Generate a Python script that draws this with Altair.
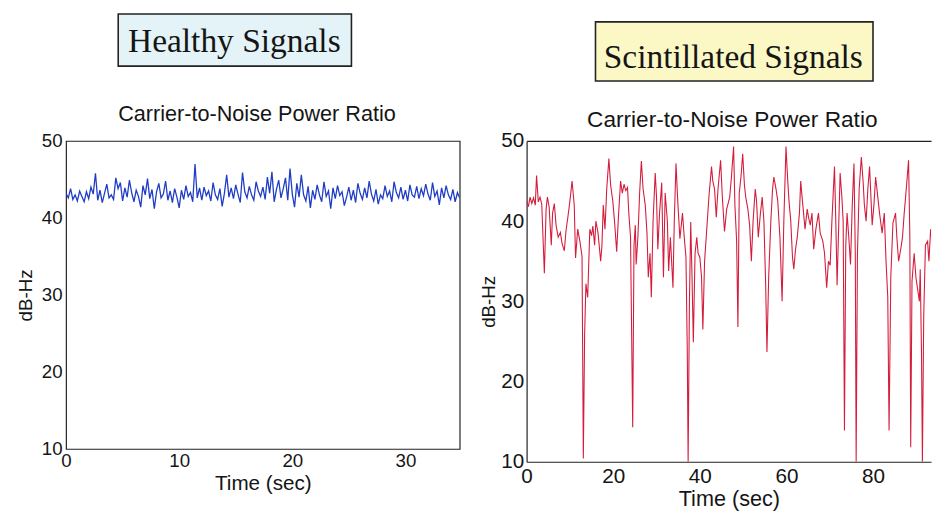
import altair as alt
import pandas as pd

# ---------------- data ----------------
panel_titles = ["Healthy Signals", "Scintillated Signals"]
panel_subtitle = "Carrier-to-Noise Power Ratio"
y_label = "dB-Hz"
x_label = "Time (sec)"

healthy_x_ticks = [0, 10, 20, 30]
scint_x_ticks = [0, 20, 40, 60, 80]
y_ticks = [10, 20, 30, 40, 50]

# healthy C/N0, sampled every 0.2 s
healthy_step = 0.2
healthy_cn0 = [
    43.2, 42.6, 43.8, 42.4, 43.0, 42.2, 43.5, 42.8, 42.1, 43.4,
    42.5, 44.0, 43.1, 45.8, 42.3, 43.6, 42.0, 43.2, 44.4, 42.6,
    43.0, 42.4, 45.2, 43.8, 44.6, 42.2, 43.9, 42.7, 44.9, 43.3,
    42.1, 43.6, 42.8, 41.4, 44.2, 43.0, 45.1, 42.5, 43.7, 41.2,
    43.4, 44.5, 42.6, 43.1, 44.8, 42.3, 43.5, 42.0, 43.8, 42.7,
    41.3, 43.6, 42.4, 44.2, 42.8, 43.3, 42.1, 47.0, 42.6, 43.9,
    42.3, 44.0, 42.9, 43.5, 42.2, 44.6, 43.0, 42.4, 43.8, 41.5,
    43.2, 45.6, 42.7, 43.9, 42.5, 44.3, 43.1, 42.0, 45.9, 43.4,
    42.6, 44.1, 43.0, 42.3, 44.7, 43.5, 42.8, 44.0, 42.4, 45.3,
    43.2, 46.0, 42.1, 43.7, 44.9, 42.6, 43.8, 45.2, 42.3, 46.4,
    43.1, 41.4, 44.5, 42.7, 45.6, 43.0, 42.2, 44.1, 41.3, 43.6,
    42.4, 44.3, 43.0, 42.1, 44.7, 42.8, 43.5, 41.2, 43.9, 42.5,
    44.2, 42.9, 43.4, 41.6, 42.7, 44.0, 42.3, 43.6, 42.0, 44.5,
    43.2, 42.4, 43.9, 42.6, 44.8, 43.1, 42.2, 43.7, 41.8, 43.0,
    42.5, 44.2, 42.8, 43.5, 42.1, 44.7, 43.3, 42.6, 44.0, 42.4,
    43.6, 42.2, 44.3, 43.0, 42.7, 44.1, 42.5, 43.8, 42.9, 44.4,
    43.1, 42.3, 44.6, 42.8, 43.5, 41.7, 43.9, 42.6, 44.2, 43.0,
    42.4, 43.7, 42.1, 43.3, 42.6,
]
healthy_time = [round(i * healthy_step, 1) for i in range(len(healthy_cn0))]

scint_time = [
    0.0, 0.4, 0.8, 1.2, 1.6, 2.0, 2.3, 2.7, 3.1, 3.5, 4.1, 4.5, 4.8, 5.2, 5.7,
    6.0, 6.4, 6.8, 7.3, 7.8, 8.2, 8.7, 9.1, 9.6, 10.0, 10.5, 11.0, 11.3, 11.8,
    12.3, 12.8, 13.1, 13.4, 13.7, 14.1, 14.6, 15.0, 15.3, 15.7, 16.0, 16.5,
    17.1, 17.4, 17.7, 18.1, 18.5, 19.0, 19.4, 19.9, 20.3, 20.8, 21.2, 21.7,
    22.1, 22.5, 22.9, 23.3, 23.6, 24.0, 24.5, 24.8, 25.1, 25.3, 25.7, 26.1,
    26.5, 26.9, 27.4, 27.8, 28.1, 28.5, 28.8, 29.2, 29.7, 30.0, 30.3, 30.7,
    31.2, 31.6, 32.0, 32.5, 32.8, 33.2, 33.8, 34.1, 34.5, 34.9, 35.4, 36.0,
    36.4, 36.8, 37.1, 37.3, 37.6, 37.9, 38.2, 38.5, 38.9, 39.3, 39.6, 40.0,
    40.4, 40.7, 41.1, 41.6, 42.1, 42.7, 43.0, 43.4, 43.8, 44.2, 44.8, 45.2,
    45.7, 46.2, 46.9, 47.3, 47.8, 48.1, 48.5, 48.8, 49.1, 49.5, 49.9, 50.3,
    50.6, 51.1, 51.5, 51.9, 52.3, 52.8, 53.1, 53.5, 54.0, 54.4, 54.8, 55.2,
    55.5, 55.9, 56.4, 56.8, 57.1, 57.6, 58.0, 58.5, 59.0, 59.4, 59.9, 60.3,
    60.6, 61.0, 61.4, 61.7, 62.1, 62.5, 63.0, 63.3, 63.7, 64.3, 64.8, 65.1,
    65.5, 65.9, 66.3, 66.8, 67.4, 67.8, 68.4, 68.8, 69.3, 69.7, 70.1, 70.5,
    71.1, 71.4, 71.7, 72.0, 72.4, 72.8, 73.1, 73.4, 73.7, 74.0, 74.4, 74.8,
    75.2, 75.6, 75.9, 76.1, 76.4, 76.8, 77.3, 77.7, 78.0, 78.4, 78.8, 79.2,
    79.8, 80.2, 80.6, 81.1, 81.5, 82.1, 82.6, 83.0, 83.4, 83.7, 84.1, 84.6,
    85.2, 85.5, 85.9, 86.4, 86.8, 87.2, 87.6, 88.2, 88.5, 88.7, 89.0, 89.5,
    89.9, 90.3, 90.7, 90.9, 91.2, 91.4, 91.7, 92.1, 92.6, 92.9, 93.3, 93.7,
    94.0,
]
scint_cn0 = [
    42.5, 41.8, 43.0, 42.2, 42.9, 42.0, 45.7, 42.4, 43.0, 42.1, 33.5, 41.5, 43.0, 41.8, 37.0,
    41.0, 42.2, 39.5, 38.0, 38.6, 37.2, 36.3, 38.8, 40.8, 42.5, 45.0, 42.0, 35.4, 39.0,
    37.5, 35.6, 10.4, 26.0, 32.2, 30.5, 39.0, 38.2, 39.4, 37.0, 40.0, 38.5,
    35.0, 37.0, 42.0, 39.0, 44.0, 47.8, 44.5, 42.5, 40.0, 36.2, 40.5, 45.0,
    43.5, 44.6, 43.8, 44.2, 41.0, 38.0, 14.3, 37.0, 39.5, 34.6, 38.0, 43.5,
    47.5, 44.0, 42.0, 38.5, 33.0, 36.0, 30.5, 40.0, 46.0, 43.0, 36.5, 41.0,
    44.8, 33.0, 43.5, 40.0, 33.8, 38.0, 31.7, 40.0, 47.2, 42.5, 37.8, 41.0,
    38.0, 35.5, 24.0, 10.0, 30.0, 39.9, 33.0, 24.9, 36.0, 38.0, 36.0, 35.5,
    33.0, 26.5, 35.0, 39.0, 43.0, 46.8, 45.0, 44.0, 40.5, 44.0, 47.6, 43.0,
    38.7, 41.5, 43.0, 45.5, 49.3, 42.0, 37.5, 26.8, 43.5, 45.5, 48.4, 44.5,
    43.0, 41.5, 39.5, 35.0, 40.0, 44.0, 42.5, 38.0, 41.0, 43.0, 40.0, 32.2,
    23.7, 33.0, 40.0, 44.0, 45.5, 44.0, 42.5, 38.0, 30.0, 40.0, 49.3, 45.0,
    42.5, 40.0, 35.5, 34.0, 36.5, 38.0, 41.0, 45.0, 42.5, 39.0, 41.5, 40.5,
    39.5, 41.0, 36.5, 39.0, 41.0, 38.5, 37.5, 36.0, 31.7, 35.0, 34.5, 40.0,
    46.8, 40.0, 32.0, 38.0, 46.0, 43.0, 40.0, 13.9, 37.0, 41.0, 38.0, 34.6,
    42.0, 47.2, 36.0, 10.0, 36.0, 44.0, 48.0, 45.0, 42.0, 40.0, 44.0, 46.8,
    39.5, 42.0, 45.5, 43.0, 41.0, 38.5, 41.0, 35.0, 30.5, 13.9, 33.0, 39.8,
    41.0, 38.0, 35.0, 36.5, 38.0, 41.0, 43.5, 47.6, 38.0, 11.8, 32.5, 36.0,
    33.0, 31.5, 30.0, 34.0, 23.2, 10.0, 28.0, 37.0, 37.5, 35.0, 39.0, 37.0,
    35.0,
]

healthy_df = pd.DataFrame({"time": healthy_time, "cn0": healthy_cn0})
scint_df = pd.DataFrame({"time": scint_time, "cn0": scint_cn0})
left_head = pd.DataFrame({"title": [panel_titles[0]], "subtitle": [panel_subtitle]})
right_head = pd.DataFrame({"title": [panel_titles[1]], "subtitle": [panel_subtitle]})

SANS = "Liberation Sans"
SERIF = "Liberation Serif"
INK = "#151515"
FRAME = "#222222"

# ---------------- left panel ----------------
LW, LH = 400, 313
left_line = alt.Chart(healthy_df).mark_line(color="#1e3cc4", strokeWidth=1.3, clip=True).encode(
    x=alt.X("time:Q", scale=alt.Scale(domain=[0, 34.8], nice=False),
            axis=alt.Axis(values=healthy_x_ticks, title=x_label, grid=False, tickSize=0,
                          labelFlush=False, labelPadding=3, titlePadding=2,
                          labelFontSize=19, titleFontSize=21, domain=False)),
    y=alt.Y("cn0:Q", scale=alt.Scale(domain=[10, 50], nice=False, zero=False),
            axis=alt.Axis(values=y_ticks, title=y_label, grid=False, tickSize=0,
                          labelFlush=False, labelPadding=4, titlePadding=6,
                          labelFontSize=19, titleFontSize=19, domain=False)),
)
left_box = alt.Chart(left_head).mark_rect(fill="#e4f3f8", stroke=FRAME, strokeWidth=1.6).encode(
    x=alt.value(53), x2=alt.value(290), y=alt.value(-129), y2=alt.value(-76)
)
left_title = alt.Chart(left_head).mark_text(font=SERIF, fontSize=34, color=INK, baseline="alphabetic").encode(
    x=alt.value(171), y=alt.value(-90), text="title:N"
)
left_sub = alt.Chart(left_head).mark_text(font=SANS, fontSize=22, color=INK, baseline="alphabetic").encode(
    x=alt.value(194), y=alt.value(-20), text="subtitle:N"
)
left = alt.layer(left_line, left_box, left_title, left_sub).properties(
    width=LW, height=LH, view=alt.ViewBackground(stroke=FRAME, strokeWidth=1.2)
)

# ---------------- right panel ----------------
RW, RH = 411, 326
x_right_scale = alt.Scale(domain=[0, 93.4], nice=False)
right_line = alt.Chart(scint_df).mark_line(color="#d41c3c", strokeWidth=1.1, clip=True).encode(
    x=alt.X("time:Q", scale=x_right_scale,
            axis=alt.Axis(orient="bottom", values=scint_x_ticks, title=x_label, grid=False, tickSize=0,
                          labelFlush=False, labelPadding=4, titlePadding=2,
                          labelFontSize=21, titleFontSize=22, domainColor=FRAME, domainWidth=1.2)),
    y=alt.Y("cn0:Q", scale=alt.Scale(domain=[10, 50], nice=False, zero=False),
            axis=alt.Axis(values=y_ticks, title=y_label, grid=False, tickSize=0,
                          labelFlush=False, labelPadding=3, titlePadding=2,
                          labelFontSize=21, titleFontSize=19,
                          domainColor=FRAME, domainWidth=1.2)),
)
right_top = alt.Chart(scint_df).mark_line(opacity=0).encode(
    x=alt.X("time:Q", scale=x_right_scale,
            axis=alt.Axis(orient="top", labels=False, ticks=False, title=None, grid=False,
                          domainColor=FRAME, domainWidth=1.2)),
    y=alt.Y("cn0:Q"),
)
right_box = alt.Chart(right_head).mark_rect(fill="#fbf8c6", stroke=FRAME, strokeWidth=1.6).encode(
    x=alt.value(70), x2=alt.value(352), y=alt.value(-121), y2=alt.value(-61)
)
right_title = alt.Chart(right_head).mark_text(font=SERIF, fontSize=34, color=INK, baseline="alphabetic").encode(
    x=alt.value(210), y=alt.value(-74), text="title:N"
)
right_sub = alt.Chart(right_head).mark_text(font=SANS, fontSize=23, color=INK, baseline="alphabetic").encode(
    x=alt.value(209), y=alt.value(-14), text="subtitle:N"
)
right = alt.layer(right_line, right_top, right_box, right_title, right_sub).properties(
    width=RW, height=RH, view=alt.ViewBackground(stroke="transparent")
)

chart = (
    alt.hconcat(left, right, spacing=68)
    .properties(bounds="flush", background="white",
                padding={"left": 8, "top": 0, "right": 0, "bottom": 0})
    .configure_view(stroke="transparent")
    .configure_axis(labelFont=SANS, titleFont=SANS, labelColor=INK, titleColor=INK,
                    titleFontWeight="normal", labelFontWeight="normal")
)

chart.save("out.html", embed_options={"renderer": "svg", "actions": False})
